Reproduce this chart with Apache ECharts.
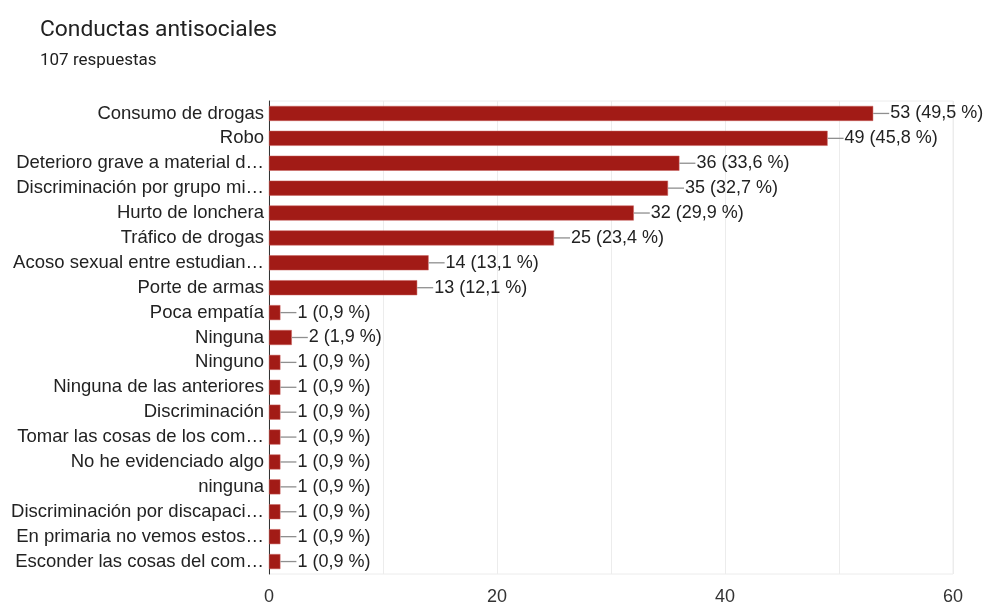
<!DOCTYPE html>
<html>
<head>
<meta charset="utf-8">
<script src="https://cdn.jsdelivr.net/npm/echarts@6/dist/echarts.min.js"></script>
<style>
html,body{margin:0;padding:0;background:#fff;}
#c{width:989px;height:606px;}
</style>
</head>
<body>
<div id="c"></div>
<script>
const categories = [
  "Consumo de drogas",
  "Robo",
  "Deterioro grave a material d…",
  "Discriminación por grupo mi…",
  "Hurto de lonchera",
  "Tráfico de drogas",
  "Acoso sexual entre estudian…",
  "Porte de armas",
  "Poca empatía",
  "Ninguna",
  "Ninguno",
  "Ninguna de las anteriores",
  "Discriminación",
  "Tomar las cosas de los com…",
  "No he evidenciado algo",
  "ninguna",
  "Discriminación por discapaci…",
  "En primaria no vemos estos…",
  "Esconder las cosas del com…"
];
const counts = [53, 49, 36, 35, 32, 25, 14, 13, 1, 2, 1, 1, 1, 1, 1, 1, 1, 1, 1];
const percents = ["49,5", "45,8", "33,6", "32,7", "29,9", "23,4", "13,1", "12,1", "0,9", "1,9", "0,9", "0,9", "0,9", "0,9", "0,9", "0,9", "0,9", "0,9", "0,9"];
const xTicks = [0, 20, 40, 60];

const F = '"Liberation Sans", Arial, sans-serif';
const chart = echarts.init(document.getElementById('c'), null, {renderer: 'canvas'});
chart.setOption({
  animation: false,
  textStyle: {fontFamily: F},
  title: {
    text: 'Conductas antisociales',
    subtext: '107 respuestas',
    left: 35, top: 14,
    itemGap: 10,
    textStyle: {fontFamily: 'Roboto', fontSize: 22.8, fontWeight: 'normal', color: '#212121'},
    subtextStyle: {fontFamily: 'Roboto', fontSize: 17, color: '#212121'}
  },
  grid: {left: 269, right: 36, top: 101, bottom: 29, show: true, borderColor: '#ececec', borderWidth: 1},
  xAxis: {
    type: 'value', min: 0, max: 60, interval: 10,
    axisLine: {show: false}, axisTick: {show: false},
    splitLine: {show: true, lineStyle: {color: '#ececec', width: 1}},
    axisLabel: {
      margin: 14, fontSize: 18, color: '#333', fontFamily: F,
      formatter: v => xTicks.includes(v) ? String(v) : ''
    }
  },
  yAxis: {
    type: 'category', data: categories, inverse: true,
    axisLine: {show: true, lineStyle: {color: '#333', width: 1}},
    axisTick: {show: false},
    splitLine: {show: false},
    axisLabel: {margin: 5, fontSize: 18.5, color: '#222', fontFamily: F}
  },
  series: [{
    type: 'bar',
    data: counts,
    barWidth: 15,
    itemStyle: {color: '#a21b16', borderColor: '#c9605c', borderWidth: 0.5},
    label: {
      show: true, position: 'right', distance: 0,
      formatter: p => '{l|}{v|' + counts[p.dataIndex] + ' (' + percents[p.dataIndex] + ' %)}',
      rich: {
        l: {width: 16, height: 1.3, backgroundColor: '#8f8f8f'},
        v: {fontSize: 18, color: '#222', fontFamily: F, padding: [0, 0, 0, 1]}
      }
    }
  }]
});
</script>
</body>
</html>
